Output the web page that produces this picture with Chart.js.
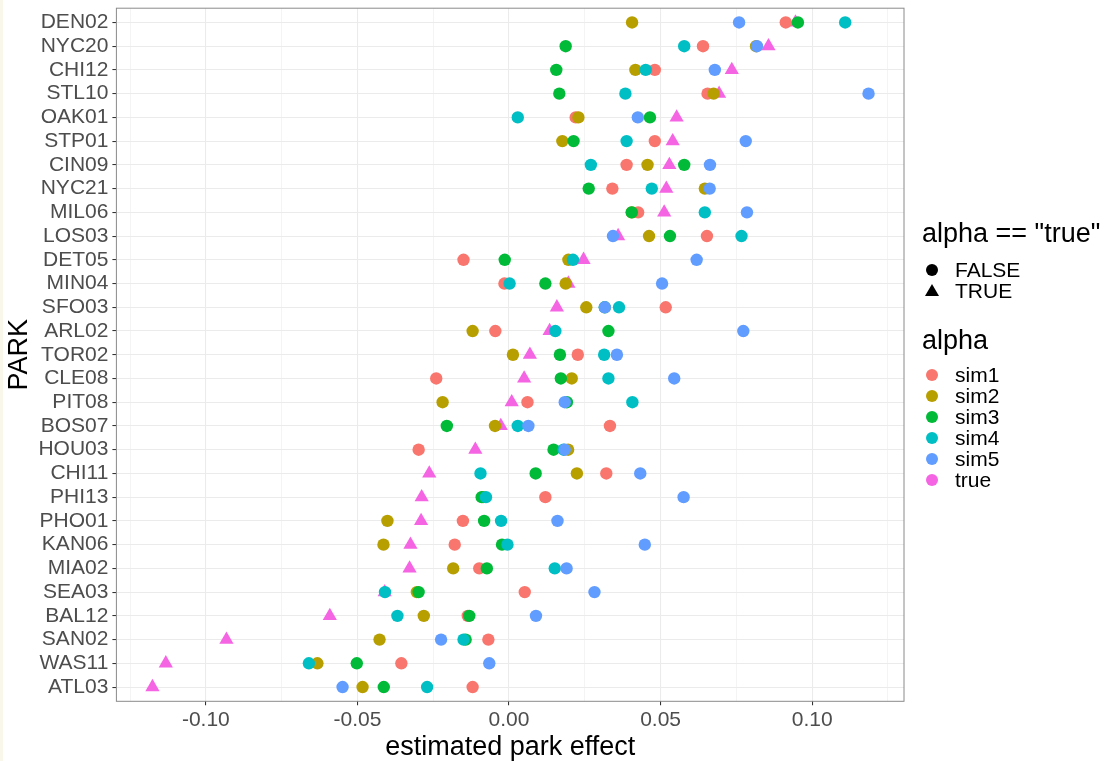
<!DOCTYPE html>
<html>
<head>
<meta charset="utf-8">
<title>estimated park effect</title>
<script src="https://cdn.jsdelivr.net/npm/chart.js@4.4.0/dist/chart.umd.min.js"></script>
<style>
  html, body { margin: 0; padding: 0; background: #fff; }
  #wrap { position: relative; width: 1117px; height: 761px; overflow: hidden; font-family: "Liberation Sans", Arial, sans-serif; }
  #edge { position: absolute; left: 0; top: 0; width: 3px; height: 761px; background: #f9f6ea; }
  #chart { position: absolute; left: 0; top: 0; }
  .legend-title { position: absolute; left: 922px; font-size: 27px; line-height: 32px; height: 32px; color: #000; white-space: nowrap; }
  .legend-text { position: absolute; left: 955px; font-size: 21px; line-height: 24px; height: 24px; color: #000; white-space: nowrap; }
  .key { position: absolute; }
</style>
</head>
<body>
<div id="wrap">
  <canvas id="chart" width="1117" height="761"></canvas>
  <div id="edge"></div>
  <div id="legend"></div>
</div>
<script>
// parks, top to bottom
const parks = ['DEN02', 'NYC20', 'CHI12', 'STL10', 'OAK01', 'STP01', 'CIN09', 'NYC21', 'MIL06', 'LOS03',
    'DET05', 'MIN04', 'SFO03', 'ARL02', 'TOR02', 'CLE08', 'PIT08', 'BOS07', 'HOU03', 'CHI11',
    'PHI13', 'PHO01', 'KAN06', 'MIA02', 'SEA03', 'BAL12', 'SAN02', 'WAS11', 'ATL03'];

// estimated park effect per simulation
const sim1 = [0.0913, 0.0640, 0.0481, 0.0655, 0.0220, 0.0481, 0.0388, 0.0341, 0.0426, 0.0653,
    -0.0150, -0.0015, 0.0517, -0.0045, 0.0227, -0.0240, 0.0061, 0.0333, -0.0298, 0.0321,
    0.0120, -0.0152, -0.0179, -0.0098, 0.0052, -0.0136, -0.0068, -0.0355, -0.0120];
const sim2 = [0.0406, 0.0815, 0.0417, 0.0675, 0.0229, 0.0176, 0.0457, 0.0646, 0.0405, 0.0462,
    0.0196, 0.0187, 0.0255, -0.0120, 0.0013, 0.0207, -0.0219, -0.0046, 0.0195, 0.0224,
    -0.0085, -0.0401, -0.0414, -0.0184, -0.0304, -0.0281, -0.0427, -0.0632, -0.0483];
const sim3 = [0.0953, 0.0187, 0.0156, 0.0166, 0.0465, 0.0213, 0.0578, 0.0263, 0.0405, 0.0531,
    -0.0014, 0.0120, 0.0316, 0.0328, 0.0168, 0.0171, 0.0191, -0.0205, 0.0147, 0.0088,
    -0.0090, -0.0082, -0.0023, -0.0073, -0.0298, -0.0131, -0.0143, -0.0502, -0.0413];
const sim4 = [0.1109, 0.0578, 0.0451, 0.0384, 0.0029, 0.0388, 0.0270, 0.0471, 0.0646, 0.0767,
    0.0211, 0.0002, 0.0363, 0.0153, 0.0314, 0.0328, 0.0407, 0.0029, 0.0180, -0.0094,
    -0.0076, -0.0026, -0.0005, 0.0151, -0.0409, -0.0368, -0.0150, -0.0660, -0.0270];
const sim5 = [0.0759, 0.0818, 0.0679, 0.1186, 0.0425, 0.0781, 0.0663, 0.0662, 0.0785, 0.0343,
    0.0619, 0.0505, 0.0316, 0.0773, 0.0356, 0.0545, 0.0184, 0.0064, 0.0184, 0.0433,
    0.0576, 0.0160, 0.0448, 0.0190, 0.0282, 0.0089, -0.0224, -0.0065, -0.0549];
const trueEffect = [0.0945, 0.0856, 0.0735, 0.0693, 0.0553, 0.0540, 0.0529, 0.0519, 0.0512, 0.0360,
    0.0246, 0.0196, 0.0158, 0.0134, 0.0069, 0.0050, 0.0009, -0.0027, -0.0111, -0.0263,
    -0.0288, -0.0290, -0.0325, -0.0328, -0.0410, -0.0591, -0.0932, -0.1132, -0.1176];

const seriesNames = ['sim1', 'sim2', 'sim3', 'sim4', 'sim5', 'true'];
const seriesColors = ['#F8766D', '#B79F00', '#00BA38', '#00BFC4', '#619CFF', '#F564E3'];
const shapeLabels = ['FALSE', 'TRUE'];

// x axis ticks
const xMajor = [-0.10, -0.05, 0, 0.05, 0.10];
const xMajorLabels = ['-0.10', '-0.05', '0.00', '0.05', '0.10'];
const xMinor = [-0.125, -0.075, -0.025, 0.025, 0.075, 0.125];

const FONT = '"Liberation Sans", Arial, sans-serif';

function isMajor(v) {
    return xMajor.some(m => Math.abs(m - v) < 1e-9);
}

function buildDatasets() {
    let values = [sim1, sim2, sim3, sim4, sim5, trueEffect];
    return seriesNames.map((name, s) => {
        let isTrue = name === 'true';
        return {
            label: name,
            data: values[s].map((v, i) => ({ x: v, y: i })),
            pointStyle: isTrue ? 'triangle' : 'circle',
            pointRadius: isTrue ? 8.2 : 6.2,
            pointHoverRadius: isTrue ? 8.2 : 6.2,
            pointBackgroundColor: seriesColors[s],
            pointBorderWidth: 0,
            borderWidth: 0,
            // true goes underneath, sim5 on top
            order: isTrue ? 6 : 5 - s
        };
    });
}

// no extra room for overhanging tick labels, the panel is placed by hand
function noLabelPadding(s) {
    s.paddingTop = 0;
    s.paddingBottom = 0;
    s.paddingLeft = 0;
    s.paddingRight = 0;
}

// theme_bw style panel border
const panelBorder = {
    id: 'panelBorder',
    afterDraw(chart) {
        let ctx = chart.ctx;
        let a = chart.chartArea;
        ctx.save();
        ctx.strokeStyle = '#8a8a8a';
        ctx.lineWidth = 1;
        ctx.strokeRect(a.left, a.top, a.right - a.left, a.bottom - a.top);
        ctx.restore();
    }
};

let ctx = document.getElementById('chart').getContext('2d');
let chart = new Chart(ctx, {
    type: 'scatter',
    data: { datasets: buildDatasets() },
    options: {
        responsive: false,
        animation: false,
        devicePixelRatio: 1,
        layout: { padding: { left: 0, top: 5.7, right: 213, bottom: 0 } },
        plugins: {
            legend: { display: false },
            tooltip: { enabled: false }
        },
        scales: {
            x: {
                type: 'linear',
                min: -0.1295,
                max: 0.1303,
                afterBuildTicks: s => {
                    s.ticks = xMinor.concat(xMajor).sort((a, b) => a - b).map(v => ({ value: v }));
                },
                afterFit: s => {
                    s.height = 761 - 701.3;
                    noLabelPadding(s);
                },
                ticks: {
                    autoSkip: false,
                    maxRotation: 0,
                    padding: 4,
                    color: '#4D4D4D',
                    font: { family: FONT, size: 21, lineHeight: 1 },
                    callback: v => {
                        let k = xMajor.findIndex(m => Math.abs(m - v) < 1e-9);
                        return k >= 0 ? xMajorLabels[k] : '';
                    }
                },
                grid: {
                    color: '#EBEBEB',
                    lineWidth: c => isMajor(c.tick.value) ? 1.07 : 0.53,
                    tickLength: 4,
                    tickWidth: 1.07,
                    tickColor: c => isMajor(c.tick.value) ? '#333333' : 'rgba(0,0,0,0)'
                },
                border: { display: false },
                title: {
                    display: true,
                    text: 'estimated park effect',
                    color: '#000',
                    font: { family: FONT, size: 27, lineHeight: 1.2 },
                    padding: { top: 0, bottom: -3 }
                }
            },
            y: {
                type: 'linear',
                reverse: true,
                min: -0.6,
                max: parks.length - 1 + 0.6,
                afterBuildTicks: s => {
                    s.ticks = parks.map((p, i) => ({ value: i }));
                },
                afterFit: s => {
                    s.width = 116.4;
                    noLabelPadding(s);
                },
                ticks: {
                    autoSkip: false,
                    padding: 4,
                    color: '#4D4D4D',
                    font: { family: FONT, size: 21, lineHeight: 1 },
                    callback: v => parks[v]
                },
                grid: {
                    color: '#EBEBEB',
                    lineWidth: 1.07,
                    tickLength: 4,
                    tickWidth: 1.07,
                    tickColor: '#333333'
                },
                border: { display: false },
                title: {
                    display: true,
                    text: 'PARK',
                    color: '#000',
                    font: { family: FONT, size: 27, lineHeight: 1.2 },
                    padding: { top: 3, bottom: 0 }
                }
            }
        }
    },
    plugins: [panelBorder]
});

// two ggplot style legends on the right
function addLegend() {
    let box = document.getElementById('legend');
    let keyX = 932;

    function title(text, cy) {
        let d = document.createElement('div');
        d.className = 'legend-title';
        d.textContent = text;
        d.style.top = (cy - 16) + 'px';
        box.appendChild(d);
    }
    function label(text, cy) {
        let d = document.createElement('div');
        d.className = 'legend-text';
        d.textContent = text;
        d.style.top = (cy - 12) + 'px';
        box.appendChild(d);
    }
    function circle(color, cy) {
        let d = document.createElement('div');
        d.className = 'key';
        d.style.left = (keyX - 6.2) + 'px';
        d.style.top = (cy - 6.2) + 'px';
        d.style.width = '12.4px';
        d.style.height = '12.4px';
        d.style.borderRadius = '50%';
        d.style.background = color;
        box.appendChild(d);
    }
    function triangle(color, cy) {
        let d = document.createElement('div');
        d.className = 'key';
        d.style.left = (keyX - 7.1) + 'px';
        d.style.top = (cy - 7.5) + 'px';
        d.style.width = '0';
        d.style.height = '0';
        d.style.borderLeft = '7.1px solid transparent';
        d.style.borderRight = '7.1px solid transparent';
        d.style.borderBottom = '12.3px solid ' + color;
        box.appendChild(d);
    }

    title('alpha == "true"', 233);
    circle('#000', 270);
    label(shapeLabels[0], 270);
    triangle('#000', 291);
    label(shapeLabels[1], 291);

    title('alpha', 340);
    seriesNames.forEach((name, s) => {
        let cy = 375 + s * 21;
        circle(seriesColors[s], cy);
        label(name, cy);
    });
}
addLegend();
</script>
</body>
</html>
